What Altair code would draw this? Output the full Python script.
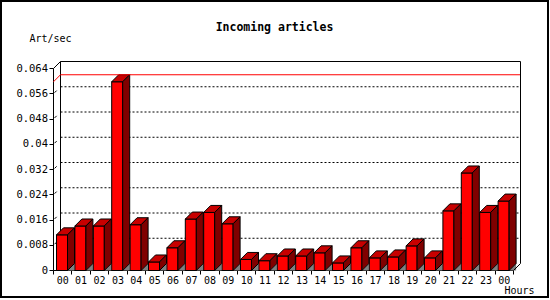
import json
import altair as alt
import pandas as pd

# ---- data ----
hours = ["00", "01", "02", "03", "04", "05", "06", "07", "08", "09", "10", "11",
         "12", "13", "14", "15", "16", "17", "18", "19", "20", "21", "22", "23", "00"]
rates = [0.0113, 0.0141, 0.0141, 0.0598, 0.0145, 0.0027, 0.0072, 0.0163, 0.0184,
         0.0148, 0.0035, 0.0031, 0.0046, 0.0046, 0.0056, 0.0024, 0.0072, 0.0040,
         0.0043, 0.0078, 0.0040, 0.0189, 0.0309, 0.0184, 0.0220]
y_ticks = [0, 0.008, 0.016, 0.024, 0.032, 0.04, 0.048, 0.056, 0.064]
grid_vals = y_ticks[1:-1]

# ---- geometry (styling) ----
Y_MAX = y_ticks[-1]
N = len(hours)
PLOT_W, PLOT_H = 460, 202
PX_X = PLOT_W / N
PX_Y = PLOT_H / Y_MAX
DX = 7 / PX_X          # 3D depth in data units
DY = 7 / PX_Y
OFF = 3 / PX_X
BW = 11 / PX_X
FONT = "DejaVu Sans Mono"

xs = alt.Scale(domain=[0, N], nice=False, zero=False)
ys = alt.Scale(domain=[0, Y_MAX], nice=False, zero=False)

fronts, tops, sides, shadows = [], [], [], []
for i, v in enumerate(rates):
    x0 = i + OFF
    x1 = x0 + BW
    fronts.append({"bar": i, "x0": x0, "x1": x1, "v": v})
    tops += [{"bar": i, "y": v, "xa": x0, "xb": x1},
             {"bar": i, "y": v + DY, "xa": x0 + DX, "xb": x1 + DX}]
    sides += [{"bar": i, "x": x1, "y": v, "y2": 0},
              {"bar": i, "x": x1 + DX, "y": v + DY, "y2": DY}]
    shadows += [{"bar": i, "x": x1, "y": 0, "y2": 0},
                {"bar": i, "x": x1 + DX, "y": DY, "y2": 0}]

fronts = pd.DataFrame(fronts)
tops = pd.DataFrame(tops)
sides = pd.DataFrame(sides)
shadows = pd.DataFrame(shadows)

vmax = max(rates)

grid_back = pd.DataFrame([{"x": DX, "x2": N + DX, "y": g + DY, "y2": g + DY} for g in grid_vals])
grid_side = pd.DataFrame([{"x": 0.15 * DX, "x2": 0.45 * DX, "y": g + 0.15 * DY, "y2": g + 0.45 * DY}
                          for g in grid_vals])
frame_back = pd.DataFrame([{"x": DX, "x2": DX, "y": DY, "y2": Y_MAX + DY}])
frame = pd.DataFrame([
    {"x": 0, "x2": DX, "y": Y_MAX, "y2": Y_MAX + DY},
    {"x": DX, "x2": N + DX, "y": Y_MAX + DY, "y2": Y_MAX + DY},
    {"x": N + DX, "x2": N + DX, "y": DY, "y2": Y_MAX + DY},
    {"x": N + DX, "x2": N, "y": DY, "y2": 0},
])
red = pd.DataFrame([
    {"x": 0, "x2": DX, "y": vmax, "y2": vmax + DY},
    {"x": DX, "x2": N + DX, "y": vmax + DY, "y2": vmax + DY},
])

label_expr = f"datum.value < {N} ? {json.dumps(hours)}[datum.value] : ''"

x_axis = alt.Axis(values=list(range(N + 1)), labelExpr=label_expr, labelOffset=PX_X / 2,
                  labelAlign="center", labelBaseline="top", labelPadding=1.5, tickSize=4,
                  labelFontSize=10, labelOverlap=False, labelBound=False, labelFlush=False,
                  tickCount=N + 1,
                  title="Hours", titleX=466, titleY=23, titleAlign="center",
                  titleBaseline="alphabetic", titleAngle=0)
y_axis = alt.Axis(values=y_ticks, format=".3~f", tickSize=4, labelFontSize=10.5,
                  labelPadding=1.5, labelOverlap=False, labelBound=False, labelFlush=False,
                  tickCount=len(y_ticks),
                  title="Art/sec", titleX=-3, titleY=-27, titleAngle=0, titleAlign="center",
                  titleBaseline="alphabetic")


def X(field, **kw):
    return alt.X(field, scale=xs, axis=x_axis, **kw)


def Y(field, **kw):
    return alt.Y(field, scale=ys, axis=y_axis, **kw)


def rules(df, **mark):
    return alt.Chart(df).mark_rule(**mark).encode(
        x=X("x:Q"), x2="x2:Q", y=Y("y:Q"), y2="y2:Q")


l_back = rules(frame_back, color="black", strokeWidth=1)
l_grid = rules(grid_back, color="black", strokeWidth=1, strokeDash=[2, 2])
l_gside = rules(grid_side, color="black", strokeWidth=1)

l_shadow = alt.Chart(shadows).mark_area(orient="vertical", fill="#808080").encode(
    x=X("x:Q"), y=Y("y:Q", stack=None), y2="y2:Q", detail="bar:N")

l_front = alt.Chart(fronts).mark_rect(fill="#FF0000", stroke="black", strokeWidth=1).encode(
    x=X("x0:Q"), x2="x1:Q", y=Y("v:Q"), y2=alt.Y2(datum=0))

l_top = alt.Chart(tops).mark_area(orient="horizontal", fill="#C80000", stroke="black",
                                  strokeWidth=1).encode(
    y=Y("y:Q"), x=X("xa:Q", stack=None), x2="xb:Q", detail="bar:N")

l_side = alt.Chart(sides).mark_area(orient="vertical", fill="#800000", stroke="black",
                                    strokeWidth=1).encode(
    x=X("x:Q"), y=Y("y:Q", stack=None), y2="y2:Q", detail="bar:N")

l_red = rules(red, color="#FF0000", strokeWidth=1)
l_frame = rules(frame, color="black", strokeWidth=1)

l_border = alt.Chart(pd.DataFrame({"a": [0]})).mark_rect(
    fillOpacity=0, stroke="black", strokeWidth=2).encode(
    x=alt.value(-52.5), x2=alt.value(494.5), y=alt.value(-67.5), y2=alt.value(228.5))

chart = alt.layer(
    l_back, l_grid, l_gside, l_shadow, l_front, l_top, l_side, l_red, l_frame, l_border
).properties(
    width=PLOT_W, height=PLOT_H,
    padding={"left": 53.5, "top": 68.5, "right": 36.5, "bottom": 29.5},
    autosize=alt.AutoSizeParams(type="none"),
    background="white",
    title=alt.TitleParams("Incoming articles", font=FONT, fontSize=11.5, fontWeight="bold",
                          color="black", anchor="middle", dx=-9, baseline="alphabetic",
                          offset=-42),
).configure_view(strokeWidth=0).configure_axis(
    labelOverlap=False, labelBound=False, labelFlush=False, grid=False,
    translate=0, zindex=1, tickColor="black", domainColor="black", labelColor="black",
    labelFont=FONT, titleFont=FONT, titleFontSize=10, titleFontWeight="normal",
    titleColor="black",
)

chart.save("out.html", embed_options={"renderer": "svg", "actions": False})
